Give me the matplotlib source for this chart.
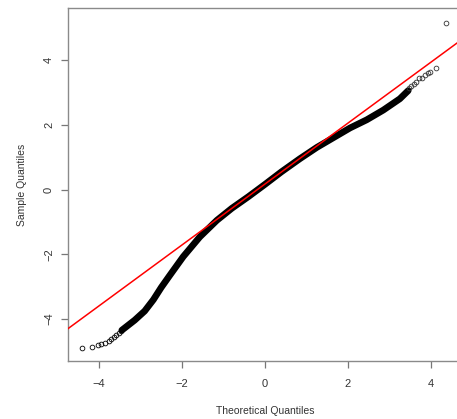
import matplotlib
matplotlib.use("Agg")
import matplotlib.pyplot as plt

plt.rcParams['font.family'] = ['Liberation Sans', 'DejaVu Sans']

# Dense central band of the QQ plot (theoretical vs sample quantiles)
band_theoretical = [-3.45, -3.14, -2.90, -2.69, -2.50, -2.29, -1.97, -1.57, -1.16,
                    -0.80, -0.40, 0.00, 0.40, 0.84, 1.25, 1.65, 2.05, 2.45, 2.85,
                    3.25, 3.45]
band_sample = [-4.34, -4.03, -3.75, -3.40, -3.02, -2.64, -2.07, -1.46, -0.95,
               -0.58, -0.22, 0.16, 0.55, 0.95, 1.30, 1.60, 1.90, 2.15, 2.45,
               2.80, 3.05]

# Sparse tail points (individual circles)
low_tail_theoretical = [-4.40, -4.16, -4.02, -3.94, -3.85, -3.77, -3.70, -3.64,
                        -3.58, -3.52, -3.47]
low_tail_sample = [-4.90, -4.87, -4.80, -4.77, -4.73, -4.67, -4.61, -4.55,
                   -4.49, -4.43, -4.37]
high_tail_theoretical = [3.48, 3.53, 3.58, 3.65, 3.72, 3.78, 3.86, 3.92, 3.98,
                         4.12, 4.36]
high_tail_sample = [3.12, 3.18, 3.24, 3.33, 3.44, 3.45, 3.54, 3.58, 3.64,
                    3.75, 5.15]

# Reference (qqline) parameters
qq_intercept = 0.17
qq_slope = 0.94

x_ticks = [-4, -2, 0, 2, 4]
y_ticks = [-4, -2, 0, 2, 4]

W, H = 457, 419
fig = plt.figure(figsize=(W / 100, H / 100), dpi=100)
left, right, top, bottom = 68, 462, 8, 361
ax = fig.add_axes([left / W, 1 - bottom / H, (right - left) / W, (bottom - top) / H])

ax.plot(band_theoretical, band_sample, color='black', lw=4.8,
        solid_capstyle='round', solid_joinstyle='round', zorder=2)
ax.plot(low_tail_theoretical, low_tail_sample, linestyle='none', marker='o',
        markersize=3.4, markerfacecolor='none', markeredgecolor='black',
        markeredgewidth=0.6, zorder=2)
ax.plot(high_tail_theoretical, high_tail_sample, linestyle='none', marker='o',
        markersize=3.4, markerfacecolor='none', markeredgecolor='#333333',
        markeredgewidth=0.6, zorder=2)

ax.axline((0, qq_intercept), slope=qq_slope, color='#ff0000', lw=1.1, zorder=3)

ax.set_xlim(-4.747, 4.747)
ax.set_ylim(-5.29, 5.60)
ax.set_xticks(x_ticks)
ax.set_yticks(y_ticks)
ax.set_xticklabels([str(v) if v >= 0 else '\u2212' + str(-v) for v in x_ticks])
ax.set_yticklabels([str(v) if v >= 0 else '\u2212' + str(-v) for v in y_ticks],
                   rotation=90, va='center')

for s in ax.spines.values():
    s.set_color('#8a8a8a')
    s.set_linewidth(1.0)
ax.spines['right'].set_visible(False)
ax.tick_params(axis='both', length=5, width=0.9, color='#777777',
               labelcolor='#333333', labelsize=8)
ax.tick_params(axis='x', pad=8)
ax.tick_params(axis='y', pad=5)

ax.set_xlabel('Theoretical Quantiles', fontsize=7.5, color='#333333', labelpad=12)
ax.set_ylabel('Sample Quantiles', fontsize=7.5, color='#333333', labelpad=12)

fig.savefig('out.png', dpi=100)
